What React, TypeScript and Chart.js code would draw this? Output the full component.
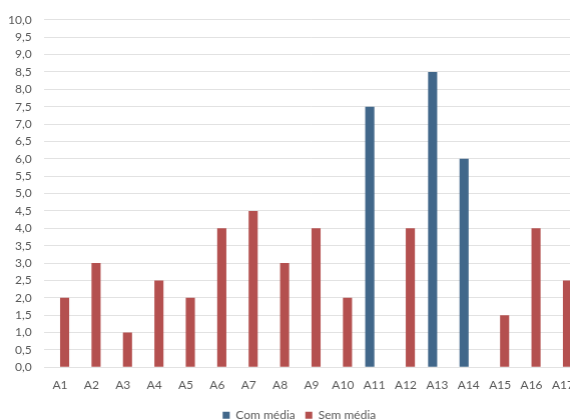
import React, { useEffect, useRef } from "react";
import { Chart, registerables } from "chart.js";

Chart.register(...registerables);

const categories = [
  "A1", "A2", "A3", "A4", "A5", "A6", "A7", "A8", "A9",
  "A10", "A11", "A12", "A13", "A14", "A15", "A16", "A17",
];

// Grades for students whose average was computed
const comMedia: (number | null)[] = [
  null, null, null, null, null, null, null, null, null,
  null, 7.5, null, 8.5, 6.0, null, null, null,
];

// Grades for students without an average
const semMedia: (number | null)[] = [
  2.0, 3.0, 1.0, 2.5, 2.0, 4.0, 4.5, 3.0, 4.0,
  2.0, null, 4.0, null, null, 1.5, 4.0, 2.5,
];

const seriesNames = ["Com média", "Sem média"];
const seriesColors = ["#41678a", "#b4504f"];

const yMin = 0;
const yMax = 10;
const yStep = 0.5;

const TEXT = "#595959";
const FONT = "Lato, 'Open Sans', sans-serif";

export default function App() {
  const canvasRef = useRef<HTMLCanvasElement | null>(null);

  useEffect(() => {
    if (!canvasRef.current) return;
    const chart = new Chart(canvasRef.current, {
      type: "bar",
      data: {
        labels: categories,
        datasets: [
          {
            label: seriesNames[0],
            data: comMedia,
            backgroundColor: seriesColors[0],
            barPercentage: 1,
            categoryPercentage: 0.58,
          },
          {
            label: seriesNames[1],
            data: semMedia,
            backgroundColor: seriesColors[1],
            barPercentage: 1,
            categoryPercentage: 0.58,
          },
        ],
      },
      options: {
        animation: false,
        responsive: true,
        maintainAspectRatio: false,
        layout: { padding: { left: 0, right: 0, top: 17, bottom: 0 } },
        plugins: {
          legend: {
            position: "bottom",
            labels: {
              boxWidth: 7,
              boxHeight: 7,
              padding: 10,
              color: TEXT,
              font: { family: FONT, size: 12 },
            },
          },
          tooltip: { enabled: false },
        },
        scales: {
          x: {
            grid: { display: false, drawTicks: false },
            border: { display: false },
            ticks: {
              color: TEXT,
              padding: 11,
              maxRotation: 0,
              autoSkip: false,
              font: { family: FONT, size: 12 },
            },
            afterFit: (scale: any) => {
              scale.height = 32;
            },
          },
          y: {
            min: yMin,
            max: yMax,
            grid: { color: "#e2e2e2", lineWidth: 1, drawTicks: false },
            border: { display: false },
            ticks: {
              stepSize: yStep,
              autoSkip: false,
              color: TEXT,
              padding: 12.6,
              font: { family: FONT, size: 12 },
              callback: (v: any) => Number(v).toFixed(1).replace(".", ","),
            },
            afterFit: (scale: any) => {
              scale.width = 44.3;
            },
          },
          // blank right-hand margin of the chart
          yRight: {
            position: "right",
            display: true,
            grid: { display: false, drawTicks: false },
            border: { display: false },
            ticks: { display: false },
            afterFit: (scale: any) => {
              scale.width = 20;
            },
          },
        },
      },
    });
    return () => chart.destroy();
  }, []);

  return (
    <div
      style={{
        position: "fixed",
        left: 0,
        top: 0,
        width: 570,
        height: 420,
        overflow: "hidden",
        background: "#ffffff",
      }}
    >
      <div style={{ position: "relative", width: 597.6, height: 431.3 }}>
        <canvas ref={canvasRef} />
      </div>
    </div>
  );
}
